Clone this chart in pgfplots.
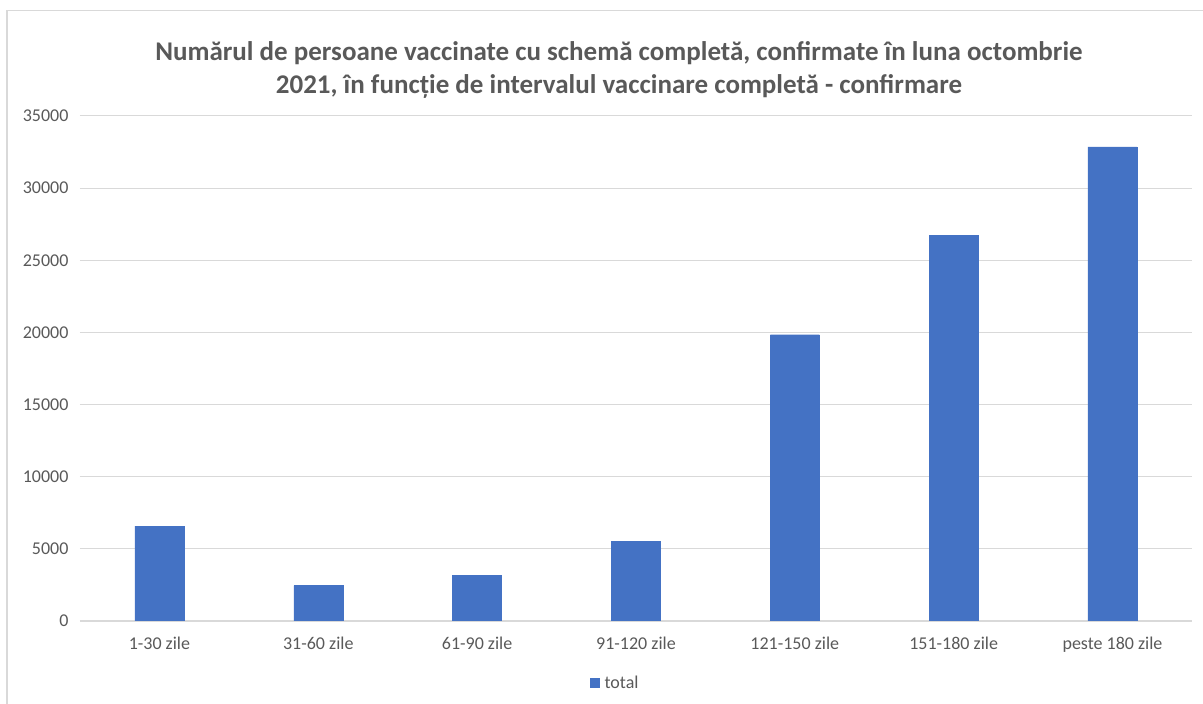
\documentclass[border=0pt]{standalone}
\usepackage{pgfplots}
\pgfplotsset{compat=1.18}
\usepackage{fontspec}
\setmainfont{Carlito}
\definecolor{barblue}{HTML}{4472C4}
\definecolor{txtgray}{HTML}{595959}
\definecolor{gridgray}{HTML}{D9D9D9}
\begin{document}
\begin{tikzpicture}
\useasboundingbox (0,0) rectangle (1203pt,704pt);
\draw[gridgray, line width=1.5pt] (7pt,0) -- (7pt,693.5pt) -- (1203pt,693.5pt);
\node[font=\fontsize{27}{33}\selectfont\bfseries, text=txtgray, align=center] at (619pt,634pt)
 {Numărul de persoane vaccinate cu schemă completă, confirmate în luna octombrie\\2021, în funcție de intervalul vaccinare completă - confirmare};
\begin{axis}[
 at={(80pt,83pt)}, anchor=south west, scale only axis, width=1112pt, height=505pt,
 xmin=-0.5, xmax=6.5, ymin=0, ymax=35000,
 ytick={0,5000,...,35000},
 xtick={0,1,2,3,4,5,6},
 xticklabels={1-30 zile,31-60 zile,61-90 zile,91-120 zile,121-150 zile,151-180 zile,peste 180 zile},
 ybar, bar width=49pt,
 ymajorgrids, grid style={gridgray, line width=1pt},
 axis x line*=bottom, axis y line*=left,
 x axis line style={gridgray, line width=1.5pt, -},
 y axis line style={draw=none, -},
 major tick length=0pt, tick style={draw=none},
 scaled y ticks=false,
 /pgf/number format/assume math mode=true,
 /pgf/number format/set thousands separator={},
 tick label style={font=\fontsize{18}{21}\selectfont, text=txtgray},
 yticklabel style={anchor=east, xshift=-8pt},
 xticklabel style={anchor=north, yshift=-12pt},
 legend style={at={(axis description cs:0.456,-0.1228)}, anchor=west, draw=none, fill=none,
   font=\fontsize{18}{21}\selectfont, text=txtgray},
 legend image code/.code={\fill[barblue] (0pt,-4.5pt) rectangle (9pt,4.5pt); \path (12pt,0pt);},
]
\addplot[fill=barblue, draw=barblue] coordinates {
 (0,6570) (1,2460) (2,3150) (3,5530) (4,19840) (5,26720) (6,32860)
};
\legend{total}
\end{axis}
\end{tikzpicture}
\end{document}
